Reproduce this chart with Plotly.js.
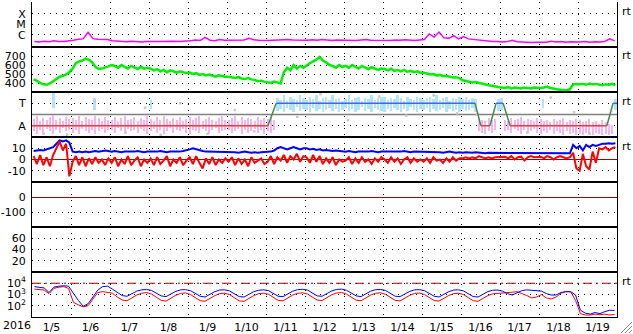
<!DOCTYPE html>
<html><head><meta charset="utf-8">
<script src="https://cdn.plot.ly/plotly-3.0.1.min.js"></script>
<style>html,body{margin:0;padding:0;background:#fff;}#chart{width:633px;height:334px;}</style>
</head><body><div id="chart"></div>
<script>
// ---------- data ----------
const yearLabel = '2016';
const nDays = 15;

// X-ray flux, 3-hourly, units of 1e-7 W/m2
const xrayE7 = [
  2.2,2.0,2.4,2.1,2.6,2.2,2.3,2.5,
  3.0,3.6,4.0,17,4.2,3.6,3.8,3.4,
  2.6,2.3,2.2,2.1,2.4,2.2,2.0,2.3,
  2.2,2.1,2.3,2.2,2.4,2.3,2.2,2.5,
  2.6,3.2,2.8,5.5,3.0,2.7,3.4,3.0,
  3.0,3.4,2.9,3.2,4.5,3.3,3.0,2.8,
  2.8,3.0,3.2,2.9,3.4,3.1,3.0,2.8,
  3.0,3.3,2.9,3.5,3.1,2.8,3.2,3.0,
  2.9,3.1,2.8,3.2,3.4,3.0,2.9,3.1,
  3.0,2.8,3.1,2.9,3.3,3.0,2.8,3.2,
  3.5,12,6.0,18,5.0,4.5,8.0,4.0,
  6.5,4.0,3.5,3.2,2.8,2.5,2.3,2.2,
  2.0,2.2,3.0,2.1,1.9,2.0,1.8,1.9,
  1.8,1.9,2.4,2.0,2.2,1.9,2.1,2.0,
  2.0,2.2,1.9,2.1,2.0,2.3,4.0,2.6
];
const xrayTicks = [1e-6, 1e-5, 1e-4];
const xrayTickText = ['C', 'M', 'X'];

// Solar wind speed, 2-hourly, km/s
const windSpeed = [
  440,425,400,385,380,395,420,450,470,480,495,520,
  560,620,640,650,670,660,630,580,555,560,570,585,
  600,590,570,600,580,560,590,570,555,580,560,570,
  560,540,555,530,545,520,540,530,515,530,520,510,
  515,500,510,490,500,485,495,480,470,485,475,470,
  470,460,455,465,450,445,455,440,435,420,425,415,
  410,400,415,405,395,520,570,540,600,560,590,570,
  600,620,640,660,690,650,630,600,590,570,600,580,
  590,570,600,575,560,590,570,555,575,560,545,560,
  555,540,560,535,545,530,545,525,535,520,530,515,
  515,505,495,500,485,490,475,480,470,460,465,455,
  430,420,410,405,410,400,395,385,375,370,360,355,
  350,345,355,340,350,345,340,350,345,340,350,345,
  345,350,360,345,335,330,325,325,320,330,385,390,
  385,390,380,395,385,390,380,375,385,380,390,375
];
const windTicks = [400, 500, 600, 700];

// IMF sector: spread of angle per 2-hour slot (0..4 scale, A=1, T=3)
const phiLo = [
  0.5,0.3,0.6,0.4,0.7,0.5,0.3,0.6,0.4,0.8,0.5,0.6,
  0.4,0.6,0.3,0.7,0.5,0.4,0.6,0.3,0.5,0.7,0.4,0.6,
  0.6,0.4,0.8,0.5,0.3,0.7,0.5,0.6,0.4,0.7,0.5,0.3,
  0.5,0.7,0.4,0.6,0.3,0.5,0.8,0.4,0.6,0.5,0.7,0.4,
  0.3,0.6,0.5,0.4,0.7,0.5,0.3,0.6,0.8,0.4,0.5,0.6,
  0.6,0.4,0.5,0.7,0.3,0.6,0.4,0.5,0.7,0.4,0.6,0.3,
  0.5,0.4,0.6,2.3,2.5,2.2,2.6,2.4,2.2,2.7,2.3,2.5,
  2.4,2.2,2.6,2.3,2.5,2.2,2.4,2.6,2.3,2.5,2.2,2.4,
  2.6,2.3,2.5,2.2,2.4,2.7,2.3,2.5,2.2,2.6,2.4,2.3,
  2.2,2.5,2.3,2.6,2.4,2.2,2.5,2.3,2.7,2.4,2.2,2.5,
  2.4,2.6,2.2,2.5,2.3,2.4,2.6,2.2,2.5,2.3,2.4,2.2,
  2.5,2.3,2.4,2.6,2.2,0.5,0.4,0.3,0.5,0.4,0.6,2.3,
  2.4,0.5,0.6,0.4,0.7,0.5,0.3,0.6,0.4,0.5,0.7,0.4,
  0.3,0.5,0.4,0.6,0.3,0.5,0.4,0.2,0.5,0.3,0.4,0.2,
  0.3,0.2,0.4,0.3,0.2,0.4,0.3,0.2,0.3,0.2,0.3,2.4
];
const phiHi = [
  1.6,1.9,1.4,1.7,1.5,1.8,2.0,1.5,1.7,1.4,1.8,1.6,
  1.7,1.5,1.9,1.4,1.8,1.6,1.5,1.9,1.7,1.4,1.8,1.5,
  1.5,1.8,1.4,1.7,1.9,1.5,1.6,1.8,1.4,1.7,1.5,1.9,
  1.6,1.4,1.8,1.5,1.9,1.6,1.4,1.7,1.5,1.8,1.4,1.6,
  1.8,1.5,1.7,1.9,1.4,1.6,1.8,1.5,1.4,1.7,1.9,1.5,
  1.5,1.7,1.9,1.4,1.8,1.5,1.7,1.6,1.4,1.8,1.5,1.7,
  1.6,1.8,1.5,3.5,3.3,3.7,3.2,3.6,3.4,3.3,3.7,3.5,
  3.3,3.6,3.4,3.7,3.2,3.5,3.6,3.3,3.7,3.4,3.5,3.2,
  3.4,3.7,3.3,3.5,3.6,3.2,3.5,3.4,3.7,3.3,3.5,3.6,
  3.6,3.3,3.5,3.4,3.7,3.5,3.2,3.6,3.4,3.3,3.6,3.5,
  3.3,3.5,3.6,3.4,3.7,3.3,3.5,3.6,3.2,3.5,3.4,3.6,
  3.4,3.6,3.3,3.5,3.4,1.6,1.5,1.4,1.7,1.5,1.6,3.4,
  3.5,1.5,1.4,1.7,1.5,1.6,1.8,1.4,1.6,1.5,1.4,1.7,
  1.6,1.4,1.5,1.3,1.6,1.4,1.5,1.7,1.3,1.5,1.4,1.6,
  1.5,1.3,1.4,1.6,1.3,1.4,1.2,1.5,1.3,1.2,1.1,3.4
];
// isolated toward-polarity spreads inside away sectors (day offset, low, high)
const strayDay = [0.55, 1.6, 3.05, 13.1];
const strayLo = [2.6, 2.4, 2.5, 2.6];
const strayHi = [3.9, 3.5, 3.3, 3.4];
// grey (uncertain) points in the sector panel
const greyDay = [0.3, 0.9, 1.6, 2.4, 2.9, 3.3, 3.8, 4.5, 5.2, 5.7, 6.8, 7.4, 8.1, 8.9, 9.6, 10.3, 10.9, 11.4, 12.7, 13.3, 13.9, 14.3];
const greyLvl = [0.3, 0.2, 3.2, 0.4, 2.6, 0.2, 3.0, 0.3, 2.4, 0.5, 1.8, 3.8, 1.5, 3.6, 1.9, 3.7, 2.1, 2.0, 0.4, 3.5, 2.2, 0.3];
// sector boundary line: day offsets and level (1 = Away, 3 = Toward)
const sectorDay = [0, 6.05, 6.26, 11.36, 11.51, 11.74, 11.90, 12.08, 12.26, 14.74, 14.90, 15];
const sectorLevel = [1, 1, 3, 3, 1, 1, 3, 3, 1, 1, 3, 3];
const sectorTickVals = [1, 3];
const sectorTickText = ['A', 'T'];

// IMF Bt and Bz, 2-hourly, nT
const imfBt = [
  7.5,8,8.5,8,9,10,11,14,17,16,17,15,
  7,6.5,7,6.5,7,6.5,7,7.5,7,7.5,8,7.5,
  7,7.5,7,6.5,7,7,6.5,7,7.5,7,6.5,7,
  7,6.5,7,7.5,7,6.5,7,7,6.5,7,7.5,8,
  9,10,9,8,7.5,7,7,6.5,7,6.5,6.5,7,
  6.5,7,6.5,6,6.5,7,6.5,6,6.5,6,6.5,6.5,
  6.5,7,8,10,11,10,9,10,11,10,9,10,
  10,9,9.5,8.5,9,8,8.5,8,7.5,8,7.5,7,
  7,7.5,7,6.5,7,7,6.5,7,7.5,7,6.5,7,
  7,6.5,7,7,6.5,7,7.5,7,6.5,7,7,6.5,
  6.5,7,6.5,6.5,7,6.5,6,6.5,7,6.5,6,6.5,
  6,6.5,6,6,6.5,6,6,5.5,6,6,5.5,6,
  5.5,5.5,6,5.5,5.5,5.5,6,5.5,5.5,5.5,5.5,5.5,
  5.5,5.5,5.5,5.5,5.5,6,5.5,5.5,5.5,5.5,13,10,
  12,8,13,11,13,12,13,14,14,14.5,14,14.5
];
const imfBz = [
  3,-4,4,-5,2,-6,4,10,16,8,14,-15,
  -2,3,-5,2,-6,1,-4,2,-3,0,-5,1,
  -3,2,-6,0,-4,3,-5,-1,2,-6,0,-3,
  1,-5,2,-4,-1,3,-6,0,-3,2,-5,-1,
  2,-4,3,-3,-8,1,-4,2,-5,0,-3,1,
  -2,2,-5,1,-4,0,-6,2,-3,-1,1,-4,
  -2,3,-4,2,-1,4,-3,3,0,5,-2,3,
  2,-3,4,-2,3,-4,1,-3,2,-5,0,-2,
  -1,2,-4,1,-3,2,-2,0,-4,1,-2,2,
  0,-3,2,-2,1,-4,0,2,-3,1,-2,0,
  -2,1,-3,2,-1,0,-3,1,-2,2,-1,1,
  1,2,1,2,1,3,2,1,2,1,2,2,
  2,2.5,1,3,0,2,2.5,-1,2,3,2,2.5,
  2.5,1,3,2,0,2,3,2,1,2,6,-8,
  -10,5,-6,-9,7,-3,10,9,11,8,10,11
];
const bTicks = [-10, 0, 10];
const dstTicks = [-100, 0];
const p6Ticks = [20, 40, 60];

// Electron flux, 3-hourly
const eFluxBlue = [
  5000,4200,3800,1500,4500,5500,6000,5500,
  1200,300,90,150,600,2500,5000,5500,
  3000,1500,800,700,1200,2000,2600,2800,
  2300,1300,750,650,1100,1900,2600,2700,
  2200,1200,700,600,1000,1800,2500,2600,
  2100,1200,650,600,1000,1800,2400,2600,
  2200,1300,700,650,1100,2000,2700,2900,
  2500,1400,750,700,1200,2100,2800,3000,
  2400,1400,750,650,1100,2000,2700,2800,
  2300,1300,700,650,1100,1900,2600,2700,
  2200,1200,700,600,1000,1800,2500,2600,
  2100,1200,650,600,1000,1800,2400,2500,
  2000,1200,900,1500,2200,2600,2500,2200,
  2000,1200,900,900,1500,1800,1800,900,
  40,22,18,25,20,30,40,38
];
const eFluxRed = [
  3000,2800,2500,1200,3500,4500,5000,3500,
  200,120,80,100,400,1500,1800,1500,
  1300,600,320,280,500,900,1300,1500,
  1100,550,300,260,480,850,1250,1400,
  1000,500,280,250,450,800,1200,1300,
  1000,500,270,250,450,800,1200,1300,
  1050,550,300,270,500,900,1300,1400,
  1100,580,320,290,520,950,1350,1500,
  1100,560,310,280,500,900,1300,1400,
  1050,540,300,270,480,850,1250,1350,
  1000,520,290,260,460,820,1200,1300,
  1000,500,280,250,450,800,1150,1250,
  1200,1300,1600,1800,1300,800,500,600,
  1000,500,400,600,1300,1800,1700,300,
  20,15,15,18,16,18,15,17
];
const eTicks = [100, 1000, 10000];
const eTickText = ['10<sup>2</sup>', '10<sup>3</sup>', '10<sup>4</sup>'];
const eAlert = 10000;

// ---------- build ----------
const DAY = 86400000;
const T0 = Date.UTC(2016, 0, 5);
const tAt = d => T0 + d * DAY;
const tIso = ms => new Date(ms).toISOString().replace('T', ' ').replace('Z', '');
const xs = (arr, perDay) => arr.map((_, i) => tIso(tAt((i + 0.5) / perDay)));

const traces = [];
traces.push({x: xs(xrayE7, 8), y: xrayE7.map(v => v * 1e-7), xaxis: 'x', yaxis: 'y',
  mode: 'lines', line: {color: '#ff00ff', width: 1.5}});
traces.push({x: xs(windSpeed, 12), y: windSpeed, xaxis: 'x2', yaxis: 'y2',
  mode: 'lines', line: {color: '#00ee00', width: 2.5}});

const slotX = xs(phiLo, 12);
const pinkX = [], pinkB = [], pinkH = [], blueX = [], blueB = [], blueH = [];
phiLo.forEach((lo, i) => {
  const hi = phiHi[i];
  if ((lo + hi) / 2 < 2) { pinkX.push(slotX[i]); pinkB.push(lo); pinkH.push(hi - lo); }
  else { blueX.push(slotX[i]); blueB.push(lo); blueH.push(hi - lo); }
});
strayDay.forEach((d, i) => { blueX.push(tIso(tAt(d))); blueB.push(strayLo[i]); blueH.push(strayHi[i] - strayLo[i]); });
traces.push({type: 'bar', x: pinkX, base: pinkB, y: pinkH, xaxis: 'x3', yaxis: 'y3',
  width: DAY / 12 * 0.6, marker: {color: '#f4b4f0', line: {width: 0}}});
traces.push({type: 'bar', x: blueX, base: blueB, y: blueH, xaxis: 'x3', yaxis: 'y3',
  width: DAY / 12 * 0.75, marker: {color: '#b0e4f8', line: {width: 0}}});
traces.push({x: greyDay.map(d => tIso(tAt(d))), y: greyLvl, xaxis: 'x3', yaxis: 'y3',
  mode: 'markers', marker: {symbol: 'square', size: 2.5, color: '#c8c8c8', line: {width: 0}}});
for (let i = 0; i < sectorDay.length - 1; i++) {
  const a = sectorLevel[i], b = sectorLevel[i + 1];
  const col = (a === b) ? (a === 1 ? '#e03c3c' : '#4a64dc') : '#4a8a50';
  traces.push({x: [tIso(tAt(sectorDay[i])), tIso(tAt(sectorDay[i + 1]))], y: [a, b],
    xaxis: 'x3', yaxis: 'y3', mode: 'lines', line: {color: col, width: 1.5}});
}

traces.push({x: xs(imfBt, 12), y: imfBt, xaxis: 'x4', yaxis: 'y4',
  mode: 'lines', line: {color: '#0000ff', width: 2}});
traces.push({x: xs(imfBz, 12), y: imfBz, xaxis: 'x4', yaxis: 'y4',
  mode: 'lines', line: {color: '#ff0000', width: 2}});
traces.push({x: [], y: [], xaxis: 'x5', yaxis: 'y5', mode: 'lines'});
traces.push({x: [], y: [], xaxis: 'x6', yaxis: 'y6', mode: 'lines'});
traces.push({x: xs(eFluxRed, 8), y: eFluxRed, xaxis: 'x7', yaxis: 'y7',
  mode: 'lines', line: {color: '#ff0000', width: 1}});
traces.push({x: xs(eFluxBlue, 8), y: eFluxBlue, xaxis: 'x7', yaxis: 'y7',
  mode: 'lines', line: {color: '#0000ff', width: 1}});

const tickFont = {family: 'DejaVu Sans', size: 11, color: '#000'};
const dotted = '1px,5px';
const xRange = [tIso(tAt(0)), tIso(tAt(nDays))];
const layout = {
  width: 633, height: 334,
  margin: {l: 32, r: 16, t: 2, b: 17, pad: 0},
  paper_bgcolor: '#fff', plot_bgcolor: '#fff',
  showlegend: false, bargap: 0, barmode: 'overlay',
  annotations: [], shapes: []
};
const NP = 7;
for (let p = 1; p <= NP; p++) {
  const key = p === 1 ? 'xaxis' : 'xaxis' + p;
  layout[key] = {
    type: 'date', range: xRange, anchor: p === 1 ? 'y' : 'y' + p,
    tick0: tIso(tAt(0)), dtick: DAY, ticklabelmode: 'period', tickformat: '%-m/%-d',
    showticklabels: p === NP, tickfont: {family: 'DejaVu Sans', size: 11, color: '#000'},
    ticks: '', showgrid: true, gridcolor: '#000', gridwidth: 1, griddash: dotted,
    showline: true, mirror: p !== 1, linecolor: '#000', linewidth: 1, zeroline: false,
    fixedrange: true
  };
  if (p > 1) layout[key].matches = 'x';
}
const dom = i => [1 - i / NP, 1 - (i - 1) / NP];
const yBase = (i) => ({
  domain: dom(i), anchor: i === 1 ? 'x' : 'x' + i,
  showline: true, mirror: true, linecolor: '#000', linewidth: 1,
  ticks: 'outside', ticklen: 3, tickcolor: 'rgba(0,0,0,0)',
  tickfont: tickFont, showgrid: true, gridcolor: '#000', gridwidth: 1, griddash: dotted,
  zeroline: false, fixedrange: true
});
layout.yaxis = Object.assign(yBase(1), {type: 'log', range: [-7.17, -2.89],
  tickvals: xrayTicks, ticktext: xrayTickText});
layout.yaxis2 = Object.assign(yBase(2), {range: [300, 800], tickvals: windTicks,
  ticktext: windTicks.map(String)});
layout.yaxis3 = Object.assign(yBase(3), {range: [0, 4], tickvals: sectorTickVals,
  ticktext: sectorTickText});
layout.yaxis4 = Object.assign(yBase(4), {range: [-20, 20], tickvals: bTicks,
  ticktext: bTicks.map(v => String(v)), zeroline: true, zerolinecolor: '#a00000', zerolinewidth: 1});
layout.yaxis5 = Object.assign(yBase(5), {range: [-200, 100], tickvals: dstTicks,
  ticktext: dstTicks.map(v => String(v)), zeroline: true, zerolinecolor: '#a00000', zerolinewidth: 1});
layout.yaxis6 = Object.assign(yBase(6), {range: [0, 80], tickvals: p6Ticks,
  ticktext: p6Ticks.map(String)});
layout.yaxis7 = Object.assign(yBase(7), {type: 'log', range: [1, 5], tickvals: eTicks,
  ticktext: eTickText});

layout.shapes.push({type: 'line', xref: 'x3 domain', yref: 'y3', x0: 0, x1: 1, y0: 2, y1: 2,
  line: {color: '#808080', width: 1.5}, layer: 'below'});
layout.shapes.push({type: 'line', xref: 'x7 domain', yref: 'y7', x0: 0, x1: 1, y0: eAlert, y1: eAlert,
  line: {color: '#a00000', width: 1, dash: '9px,4px,2px,4px'}, layer: 'above'});
// window resize grip in the bottom-right corner
const px = v => (v - 32) / 585, py = v => (317 - v) / 315;
[4, 8, 12].forEach(k => {
  layout.shapes.push({type: 'line', xref: 'paper', yref: 'paper',
    x0: px(633 - k), y0: py(333), x1: px(632), y1: py(334 - k),
    line: {color: '#8a8a8a', width: 1}});
});

const rtPanels = [1, 2, 3, 4, 7];
rtPanels.forEach(p => {
  layout.annotations.push({xref: 'paper', yref: 'paper', x: 1.005, xanchor: 'left',
    y: 1 - (p - 1) / NP - 9 / 315, yanchor: 'middle', text: 'rt', showarrow: false,
    font: {family: 'DejaVu Sans', size: 11, color: '#000'}});
});
layout.annotations.push({xref: 'paper', yref: 'paper', x: -15 / 585, xanchor: 'center',
  y: -8 / 315, yanchor: 'middle', text: yearLabel, showarrow: false,
  font: {family: 'DejaVu Sans', size: 11, color: '#000'}});

Plotly.newPlot('chart', traces, layout, {staticPlot: true, displayModeBar: false});
</script></body></html>
